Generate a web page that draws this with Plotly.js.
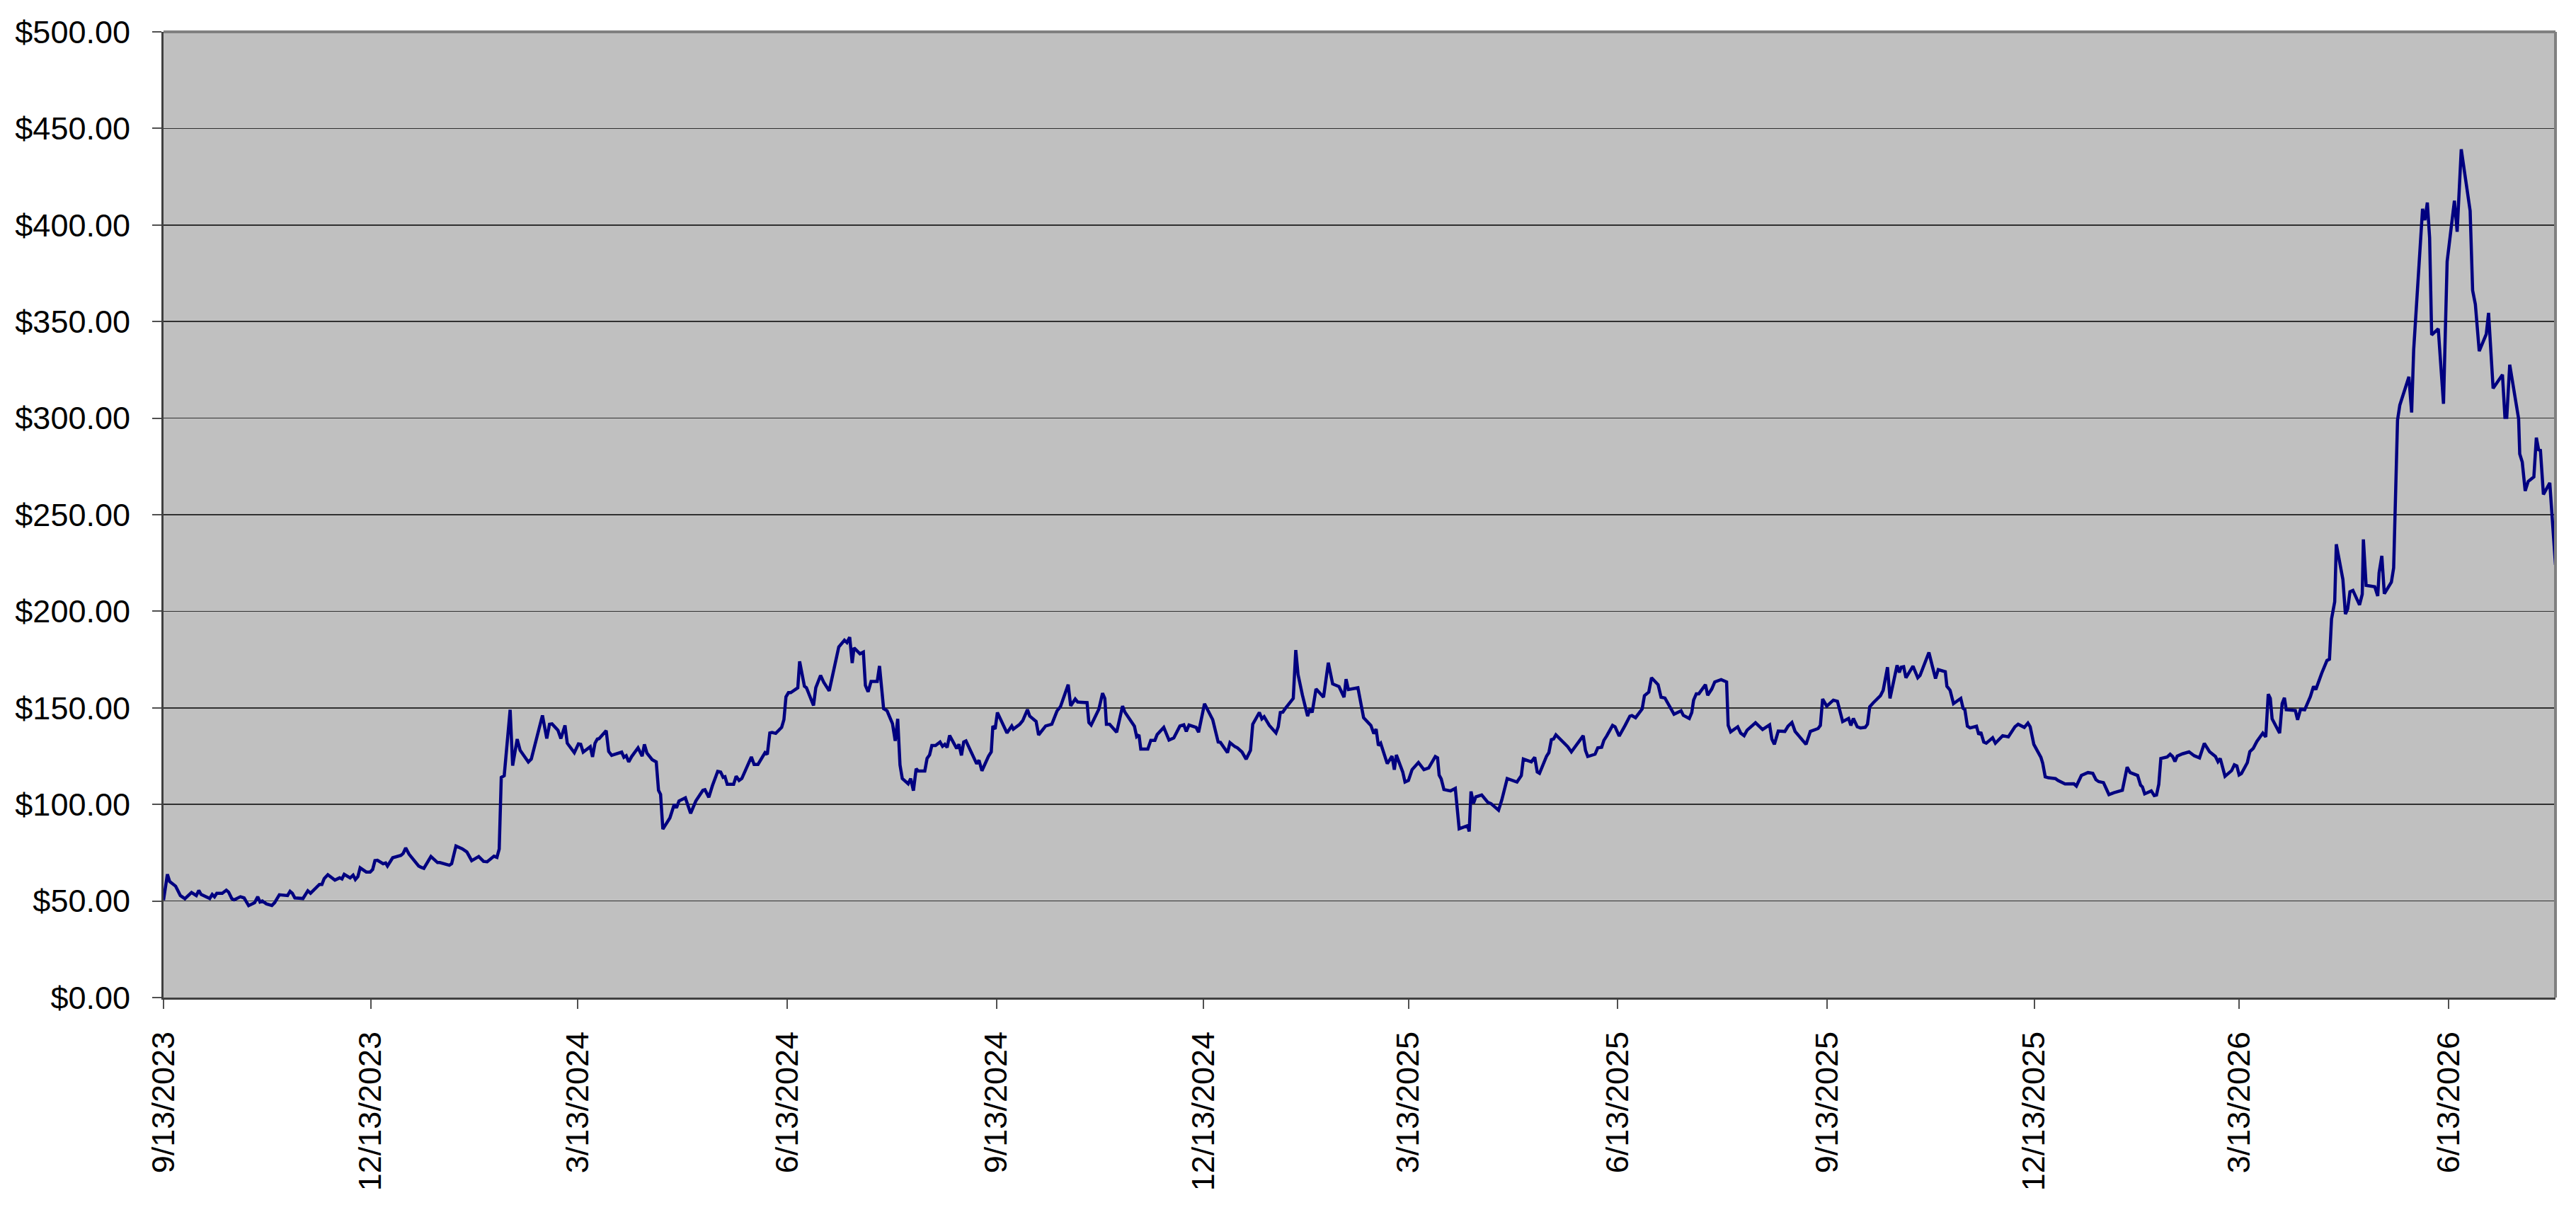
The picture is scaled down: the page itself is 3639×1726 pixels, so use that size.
<!DOCTYPE html>
<html>
<head>
<meta charset="utf-8">
<script src="https://cdn.plot.ly/plotly-3.0.1.min.js"></script>
<style>
  html, body { margin: 0; padding: 0; background: #ffffff; }
  #chart { width: 3639px; height: 1726px; }
</style>
</head>
<body>
<div id="chart"></div>
<script>
// days since 9/13/2023
const dayOffsets = [
  0, 1.7, 2.7, 5.3, 7.4, 9.4, 12.3, 14.4, 15.5, 16.5, 20.3, 21.4, 22.4, 23.4, 25.8, 27.6, 28.6, 30.0, 31.0, 33.8,
  35.4, 37.4, 40.0, 41.4, 42.4, 43.4, 45.2, 47.6, 48.8, 50.9, 54.5, 55.6, 56.6, 57.7, 61.3, 63.4, 64.6, 66.0, 68.5, 69.6,
  70.6, 72.2, 75.3, 77.4, 78.4, 79.4, 82.0, 83.3, 84.3, 85.4, 86.4, 89.1, 90.8, 91.9, 92.9, 94.0, 96.5, 97.6, 98.4, 100.7,
  104.3, 105.3, 106.4, 107.9, 112.1, 113.1, 114.4, 117.5, 120.4, 121.4, 125.6, 126.6, 128.5, 131.3, 133.3, 135.4, 138.5, 140.6, 142.2, 145.2,
  146.5, 147.5, 148.4, 149.7, 152.3, 153.4, 155.4, 156.7, 160.3, 161.6, 166.5, 168.4, 169.6, 170.7, 173.3, 174.6, 176.4, 177.4, 180.5, 182.3,
  183.3, 184.4, 187.5, 188.5, 189.6, 190.6, 191.4, 194.5, 195.6, 196.9, 201.3, 202.3, 203.3, 204.4, 205.7, 208.5, 210.3, 211.3, 212.4, 214.7,
  216.5, 217.5, 218.4, 219.4, 222.5, 224.4, 225.4, 226.5, 229.3, 231.6, 233.9, 237.0, 237.9, 239.6, 241.2, 243.5, 244.8, 245.9, 246.7, 247.7,
  250.5, 251.6, 252.9, 254.1, 258.3, 259.5, 261.2, 264.3, 265.3, 266.4, 267.4, 269.0, 271.6, 272.6, 273.5, 274.6, 275.6, 278.7, 279.5, 281.6,
  282.5, 285.6, 286.6, 288.7, 290.1, 292.5, 296.7, 299.2, 300.3, 301.5, 302.6, 303.4, 306.0, 307.5, 308.4, 309.6, 310.9, 313.6, 314.6, 316.4,
  317.9, 320.3, 321.5, 322.6, 323.6, 324.6, 327.2, 328.3, 329.5, 330.7, 331.6, 334.5, 335.5, 336.6, 337.6, 339.2, 341.2, 342.3, 343.3, 344.3,
  345.4, 348.5, 349.5, 350.6, 351.6, 352.6, 357.3, 358.3, 359.6, 362.5, 363.7, 364.4, 365.4, 366.4, 370.6, 372.7, 373.4, 376.2, 377.5, 379.6,
  380.6, 383.4, 384.5, 387.6, 390.3, 392.6, 394.1, 397.5, 398.6, 400.6, 401.7, 405.8, 406.6, 407.6, 411.0, 412.6, 413.6, 414.3, 415.7, 418.8,
  421.4, 422.4, 426.6, 427.6, 428.6, 429.4, 432.5, 433.8, 435.6, 436.6, 439.5, 441.8, 443.9, 446.6, 448.3, 449.4, 450.6, 453.7, 454.8, 457.4,
  461.0, 463.4, 464.4, 467.5, 468.6, 470.8, 471.9, 473.9, 475.7, 477.6, 478.6, 481.5, 482.6, 483.6, 485.9, 488.8, 489.8, 490.7, 491.8, 493.1,
  496.4, 497.5, 498.5, 500.4, 502.7, 503.7, 504.7, 506.4, 509.7, 511.8, 513.7, 516.5, 518.7, 519.6, 520.6, 524.8, 527.3, 530.5, 531.8, 532.8,
  533.8, 534.8, 537.7, 539.8, 540.8, 541.7, 544.5, 545.5, 547.0, 548.6, 551.4, 553.8, 555.9, 558.8, 559.8, 560.5, 561.4, 562.6, 565.5, 567.6,
  569.3, 573.0, 573.7, 574.5, 575.6, 576.6, 579.2, 581.8, 583.3, 586.6, 588.0, 590.4, 594.7, 596.6, 597.5, 601.0, 602.5, 603.6, 604.6, 607.7,
  608.7, 609.8, 610.8, 611.8, 615.5, 617.0, 618.6, 623.8, 624.8, 625.8, 629.0, 630.2, 631.9, 632.9, 634.1, 636.7, 637.8, 639.6, 642.2, 644.3,
  645.2, 646.8, 649.7, 650.7, 652.6, 653.8, 656.7, 658.0, 659.7, 661.3, 663.7, 666.8, 667.8, 670.4, 671.5, 672.3, 673.5, 674.6, 676.1, 677.5,
  678.5, 680.3, 681.6, 684.4, 686.8, 687.5, 688.6, 691.7, 693.0, 694.5, 695.8, 699.5, 702.6, 705.7, 706.7, 707.8, 709.5, 712.4, 713.8, 715.5,
  716.9, 721.7, 723.6, 727.0, 728.0, 729.0, 730.8, 733.7, 735.5, 737.8, 740.4, 741.4, 742.5, 744.2, 745.6, 747.7, 748.7, 749.7, 751.3, 754.4,
  755.6, 757.5, 758.6, 761.7, 762.7, 763.5, 764.6, 765.6, 768.7, 770.8, 771.8, 775.7, 777.2, 778.6, 779.8, 782.9, 783.6, 785.0, 786.5, 789.7,
  790.7, 791.5, 792.6, 793.8, 796.6, 797.6, 798.5, 799.8, 800.9, 803.7, 804.9, 808.1, 810.6, 811.6, 813.5, 814.9, 817.6, 819.2, 820.2, 821.8,
  822.8, 824.9, 825.7, 826.8, 828.2, 831.3, 832.4, 835.5, 839.4, 840.5, 842.7, 845.6, 847.7, 849.1, 850.3, 852.4, 854.8, 857.0, 860.7, 862.8,
  864.1, 867.4, 868.7, 869.5, 870.5, 873.4, 874.7, 875.7, 876.7, 877.6, 880.4, 881.7, 882.8, 883.8, 884.8, 887.1, 890.0, 892.3, 894.6, 896.7,
  899.0, 901.6, 902.7, 903.7, 905.8, 908.7, 909.9, 911.0, 912.0, 913.0, 915.6, 916.7, 918.2, 919.8, 922.4, 923.7, 924.8, 925.7, 926.5, 929.8,
  930.9, 931.9, 932.7, 936.7, 937.7, 939.0, 940.8, 943.3, 944.7, 945.7, 948.3, 950.6, 951.7, 952.6, 954.0, 954.7, 957.6, 958.7, 959.7, 960.7,
  962.0, 964.9, 966.1, 966.6, 967.8, 971.6, 972.9, 973.5, 974.7, 975.8, 978.9, 979.9, 981.6, 982.6, 986.6, 987.8, 988.7, 989.7, 990.7, 992.6,
  993.6, 994.7, 995.7, 996.6, 999.5, 1000.6, 1001.8, 1003.4, 1004.2, 1006.6, 1007.8, 1009.6, 1013.5, 1014.6, 1015.8, 1017.5, 1020.6, 1021.6, 1023.6, 1027.7,
  1028.8, 1029.6, 1030.9, 1032.4, 1034.8, 1035.3, 1036.4, 1037.7, 1039.0, 1041.5, 1042.6, 1043.6, 1044.4, 1045.7, 1048.5, 1051.0
];

const prices = [
  50.4, 63.8, 60.1, 57.7, 52.8, 51.2, 54.4, 52.8, 55.5, 53.4, 51.3, 53.4, 52.2, 54.0, 54.0, 55.6, 54.6, 51.2, 50.6, 52.2,
  51.6, 47.6, 49.1, 52.2, 49.5, 50.0, 48.5, 47.7, 49.1, 53.2, 52.8, 55.0, 54.0, 51.6, 51.3, 55.3, 54.0, 55.5, 58.6, 58.6,
  61.6, 63.6, 60.8, 62.0, 61.4, 63.8, 62.0, 63.4, 61.1, 62.6, 67.2, 65.0, 65.0, 66.3, 70.9, 71.1, 69.3, 69.7, 68.1, 72.4,
  73.6, 74.6, 77.5, 74.2, 68.1, 67.5, 66.9, 73.0, 69.9, 69.9, 68.5, 69.3, 78.5, 77.0, 75.4, 70.9, 73.0, 70.5, 70.3, 73.2,
  72.6, 76.9, 114.0, 114.9, 149.0, 120.1, 133.8, 128.0, 122.0, 123.5, 146.1, 134.1, 141.5, 141.7, 138.4, 134.1, 140.9, 131.7, 126.8, 131.3,
  131.1, 127.1, 129.9, 124.6, 131.7, 133.8, 134.1, 138.2, 127.4, 125.4, 127.1, 124.4, 125.2, 122.0, 124.8, 129.3, 125.0, 131.1, 126.6, 123.2,
  122.0, 107.3, 105.2, 87.2, 93.0, 100.0, 98.2, 101.8, 103.4, 95.4, 101.8, 107.3, 107.6, 103.7, 109.8, 117.1, 116.8, 114.0, 114.3, 110.4,
  110.4, 114.6, 112.4, 113.4, 124.6, 120.7, 120.7, 126.8, 125.9, 137.0, 137.3, 136.8, 139.9, 143.9, 155.7, 157.9, 157.9, 160.4, 174.1, 161.2,
  160.4, 151.2, 160.4, 166.8, 163.2, 158.8, 181.5, 185.0, 183.8, 186.6, 173.2, 181.1, 178.0, 178.9, 161.6, 158.3, 163.7, 163.7, 171.7, 149.6,
  148.5, 141.8, 132.9, 144.3, 120.5, 113.4, 110.7, 113.4, 107.1, 118.5, 117.3, 117.3, 123.8, 125.6, 130.5, 130.5, 132.3, 130.1, 131.1, 129.5,
  135.7, 129.0, 131.1, 125.4, 132.3, 132.9, 121.0, 122.9, 117.4, 125.0, 127.2, 140.6, 139.0, 147.6, 137.0, 140.6, 139.0, 141.5, 143.3, 149.1,
  145.7, 143.0, 136.0, 140.6, 141.5, 148.4, 150.6, 162.0, 151.0, 154.6, 153.0, 152.7, 142.4, 141.1, 149.4, 157.6, 154.9, 141.5, 141.5, 137.4,
  150.9, 147.8, 140.5, 135.1, 136.0, 128.7, 128.7, 133.2, 133.2, 136.2, 139.9, 133.3, 134.4, 140.6, 141.2, 137.8, 141.1, 139.9, 137.4, 152.1,
  143.9, 132.3, 132.1, 126.8, 132.0, 129.9, 129.3, 127.1, 123.4, 128.0, 141.5, 147.6, 144.3, 145.4, 140.9, 137.0, 140.2, 147.6, 147.8, 150.0,
  154.9, 179.9, 167.3, 156.7, 145.7, 149.4, 147.6, 159.8, 155.5, 173.4, 162.4, 161.0, 155.5, 164.9, 159.5, 160.4, 144.9, 140.9, 136.6, 139.0,
  130.5, 131.7, 121.1, 125.0, 118.0, 125.6, 116.8, 111.6, 112.4, 118.0, 121.7, 118.0, 118.9, 124.8, 124.1, 115.2, 113.2, 107.7, 107.0, 108.3,
  87.4, 89.0, 86.0, 106.7, 100.6, 103.9, 104.9, 101.2, 100.4, 97.0, 102.2, 113.4, 111.6, 114.9, 123.5, 122.0, 124.4, 116.8, 116.1, 125.0,
  126.8, 133.5, 133.9, 136.0, 131.5, 129.9, 127.2, 135.6, 128.0, 124.8, 126.0, 129.3, 129.6, 133.2, 135.4, 140.9, 140.2, 135.4, 140.9, 145.7,
  146.0, 144.9, 149.4, 156.3, 158.2, 165.6, 162.0, 155.5, 155.1, 151.8, 146.7, 148.5, 146.1, 144.5, 147.6, 154.0, 157.3, 157.3, 159.5, 162.0,
  156.5, 159.8, 163.4, 164.6, 163.4, 140.9, 137.6, 140.2, 136.9, 135.6, 138.4, 142.3, 138.8, 141.2, 133.8, 131.1, 138.0, 137.8, 140.5, 142.4,
  137.8, 131.1, 137.8, 139.3, 140.9, 154.6, 150.9, 154.0, 153.4, 142.9, 144.5, 140.9, 144.5, 140.2, 139.6, 139.9, 141.5, 150.6, 152.7, 156.3,
  159.1, 171.0, 154.9, 172.0, 168.3, 171.0, 171.3, 165.6, 171.6, 165.6, 166.8, 178.7, 171.6, 165.2, 169.8, 168.7, 161.2, 159.1, 152.2, 154.9,
  149.8, 149.0, 140.5, 139.6, 140.5, 136.2, 137.4, 132.3, 131.7, 134.5, 131.7, 135.6, 135.0, 136.6, 140.2, 141.5, 139.9, 142.1, 140.2, 131.1,
  128.7, 124.4, 121.3, 114.3, 113.8, 113.4, 112.4, 110.6, 110.7, 109.5, 115.0, 116.5, 116.1, 112.8, 111.8, 111.3, 105.1, 106.1, 107.3, 119.3,
  116.5, 115.0, 110.0, 109.1, 105.5, 107.0, 104.6, 104.9, 110.4, 123.8, 124.6, 126.0, 124.8, 122.2, 125.0, 126.2, 127.2, 125.2, 124.1, 131.6,
  127.3, 124.8, 122.1, 123.8, 114.6, 117.5, 120.5, 119.9, 115.3, 116.0, 121.6, 127.3, 129.0, 132.6, 136.9, 134.9, 157.1, 154.9, 144.3, 136.9,
  152.2, 155.2, 149.0, 148.6, 143.8, 149.3, 149.0, 155.8, 161.1, 159.5, 168.0, 174.5, 175.2, 196.0, 204.9, 234.7, 216.4, 198.6, 201.2, 210.1,
  210.8, 203.3, 208.8, 237.2, 213.4, 212.7, 207.9, 219.9, 228.7, 209.1, 215.1, 222.5, 299.0, 306.7, 321.4, 302.9, 335.4, 354.9, 371.7, 408.4,
  402.5, 411.6, 393.4, 343.1, 346.3, 328.4, 307.4, 381.1, 389.9, 412.6, 396.5, 439.2, 407.4, 366.1, 358.9, 334.7, 343.5, 354.5, 315.4, 322.5,
  300.4, 300.4, 327.7, 316.0, 299.7, 281.5, 277.3, 262.3, 267.2, 269.6, 289.9, 283.6, 283.3, 260.5, 266.5, 224.0
];

const tickDates = [
  '2023-09-13', '2023-12-13', '2024-03-13', '2024-06-13', '2024-09-13', '2024-12-13',
  '2025-03-13', '2025-06-13', '2025-09-13', '2025-12-13', '2026-03-13', '2026-06-13'
];
const tickLabels = [
  '9/13/2023', '12/13/2023', '3/13/2024', '6/13/2024', '9/13/2024', '12/13/2024',
  '3/13/2025', '6/13/2025', '9/13/2025', '12/13/2025', '3/13/2026', '6/13/2026'
];

const startMs = Date.UTC(2023, 8, 13);
const dayMs = 86400000;
const toDate = (d) => new Date(startMs + d * dayMs).toISOString().slice(0, 19).replace('T', ' ');

const trace = {
    x: dayOffsets.map(toDate),
    y: prices,
    type: 'scatter',
    mode: 'lines',
    line: { color: '#000080', width: 4.5 },
    hoverinfo: 'x+y'
};

const font = { family: 'Liberation Sans, Arial, sans-serif', size: 45, color: '#000000' };

const layout = {
    width: 3639,
    height: 1726,
    margin: { l: 231, r: 29, t: 45, b: 317 },
    paper_bgcolor: '#ffffff',
    plot_bgcolor: '#c0c0c0',
    showlegend: false,
    font: font,
    xaxis: {
        type: 'date',
        range: [toDate(0), toDate(dayOffsets[dayOffsets.length - 1])],
        tickmode: 'array',
        tickvals: tickDates,
        ticktext: tickLabels,
        tickangle: -90,
        ticks: 'outside',
        ticklen: 13,
        tickwidth: 2,
        tickcolor: '#505050',
        ticklabelstandoff: 14,
        showgrid: false,
        showline: true,
        linecolor: '#404040',
        linewidth: 3,
        zeroline: false,
        tickfont: font
    },
    yaxis: {
        range: [0, 500],
        dtick: 50,
        tick0: 0,
        tickprefix: '$',
        tickformat: '.2f',
        ticks: 'outside',
        ticklen: 13,
        tickwidth: 2,
        tickcolor: '#505050',
        ticklabelstandoff: 22,
        showgrid: true,
        gridcolor: '#303030',
        gridwidth: 1.5,
        showline: true,
        linecolor: '#404040',
        linewidth: 3,
        zeroline: false,
        tickfont: font
    },
    // lighter frame on the top and right edges of the plot area
    shapes: [
        { type: 'line', xref: 'paper', yref: 'paper', x0: 0, x1: 1, y0: 1, y1: 1, line: { color: '#808080', width: 4 } },
        { type: 'line', xref: 'paper', yref: 'paper', x0: 1, x1: 1, y0: 0, y1: 1, line: { color: '#808080', width: 4 } }
    ]
};

Plotly.newPlot('chart', [trace], layout, { staticPlot: true, displayModeBar: false });
</script>
</body>
</html>
